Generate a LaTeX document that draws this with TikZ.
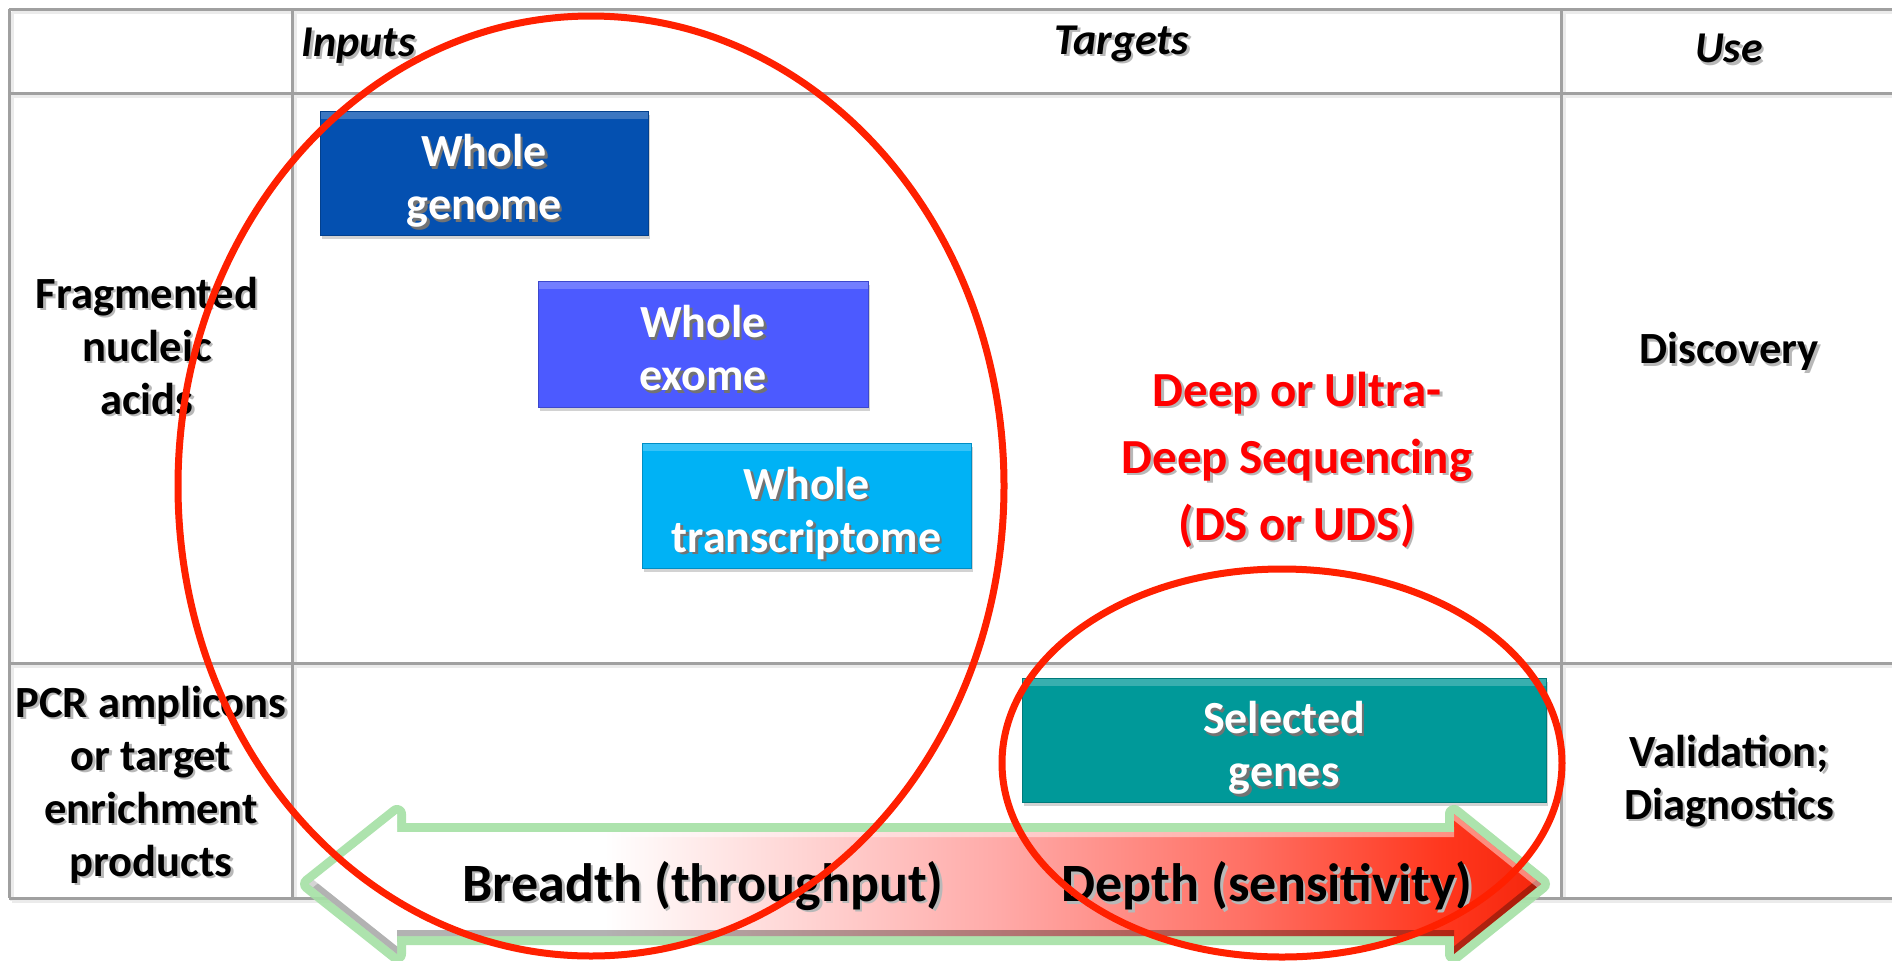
\documentclass[tikz,border=0pt]{standalone}
\usepackage{fontspec}
\setmainfont{Carlito}
\usetikzlibrary{shapes.geometric,shadows}
\definecolor{tblline}{RGB}{160,160,160}
\definecolor{genomeblue}{RGB}{4,80,176}
\definecolor{exomeblue}{RGB}{76,90,255}
\definecolor{transblue}{RGB}{0,178,245}
\definecolor{geneteal}{RGB}{0,153,153}
\definecolor{ringred}{RGB}{255,32,0}
\definecolor{textred}{RGB}{255,0,0}
\definecolor{glowgreen}{RGB}{165,224,165}
\definecolor{arrA}{RGB}{255,170,168}
\definecolor{arrB}{RGB}{255,112,100}
\definecolor{arrC}{RGB}{255,55,30}
\definecolor{arrD}{RGB}{245,38,12}
\pgfdeclarehorizontalshading{arrowshade}{100bp}{color(0bp)=(white); color(37bp)=(white); color(53bp)=(arrA); color(63bp)=(arrB); color(71bp)=(arrC); color(75bp)=(arrD); color(100bp)=(arrD)}
\newcommand{\shtxt}[2][black!28]{\makebox[0pt][l]{\raisebox{-1.3pt}{\hspace{1.3pt}\textcolor{#1}{#2}}}#2}
\tikzset{
  tline/.style={draw=tblline, line width=1.5pt},
  tshadow/.style={draw=black!8, line width=2pt},
  lbl/.style={font=\fontsize{22.3}{26.5}\selectfont\bfseries, align=center, inner sep=0pt},
  hdr/.style={font=\fontsize{22}{26}\selectfont\bfseries\itshape, inner sep=0pt},
  tbox/.style={fill=#1, draw=#1!80!black, line width=0.5pt, text=white, align=center, inner sep=0pt,
    font=\fontsize{23}{26.5}\selectfont\bfseries, text height=46.5pt, text depth=0pt,
    drop shadow={shadow xshift=1pt, shadow yshift=-1.8pt, opacity=0.35},
    path picture={\fill[white,opacity=0.22] (path picture bounding box.north west) rectangle ([yshift=-4pt]path picture bounding box.north east);}},
  ring/.style={ellipse, draw=ringred, line width=3.5pt, inner sep=0pt},
  redtxt/.style={font=\fontsize{24.5}{33.5}\selectfont\bfseries, text=textred, align=center, inner sep=0pt},
  arrtxt/.style={font=\fontsize{27}{30}\selectfont\bfseries, inner sep=0pt},
}
\begin{document}
\begin{tikzpicture}[x=0.5pt,y=-0.5pt]
\useasboundingbox (0,0) rectangle (1892,960);
\fill[white] (0,0) rectangle (1892,960);

% table
\foreach \yy in {9,93,663,898}{
  \draw[tshadow] (12,\yy+3) -- (1892,\yy+3);
}
\foreach \xx in {9,292,1561}{
  \draw[tshadow] (\xx+3,12) -- (\xx+3,901);
}
\foreach \yy in {9,93,663,898}{
  \draw[tline] (9,\yy) -- (1892,\yy);
}
\foreach \xx in {9,292,1561}{
  \draw[tline] (\xx,9) -- (\xx,898);
}

% headers
\node[hdr, anchor=west] (hin) at (301,47) {\shtxt{Inputs}};
\node[hdr] (htg) at (1122,45) {\shtxt{Targets}};
\node[hdr] (hus) at (1729,50) {\shtxt{Use}};

% row labels
\node[lbl] (rfrag) at (147,347) {\shtxt{Fragmented}\\\shtxt{nucleic}\\\shtxt{acids}};
\node[lbl] (rpcr) at (151,786) {\shtxt{PCR amplicons}\\\shtxt{or target}\\\shtxt{enrichment}\\\shtxt{products}};
\node[lbl] (udisc) at (1729,353) {\shtxt{Discovery}};
\node[lbl] (uval) at (1729,782) {\shtxt{Validation;}\\\shtxt{Diagnostics}};

% boxes
\node[tbox=genomeblue, minimum width=164pt, minimum height=62pt] (genome) at (484,173) {\shtxt[black!55]{Whole}\\\shtxt[black!55]{genome}};
\node[tbox=exomeblue, minimum width=165pt, minimum height=63pt] (exome) at (703,344) {\shtxt[black!55]{Whole}\\\shtxt[black!55]{exome}};
\node[tbox=transblue, minimum width=164.5pt, minimum height=62.5pt] (trans) at (806.5,505.5) {\shtxt[black!55]{Whole}\\\shtxt[black!55]{transcriptome}};
\node[tbox=geneteal, minimum width=262pt, minimum height=62pt] (genes) at (1284,740) {\shtxt[black!55]{Selected}\\\shtxt[black!55]{genes}};

% red text
\node[redtxt] (deep) at (1297,461) {\shtxt{Deep or Ultra-}\\\shtxt{Deep Sequencing}\\\shtxt{(DS or UDS)}};

% double arrow
\coordinate (aL) at (309,884);
\coordinate (aLt) at (397,814);
\coordinate (aLst) at (397,832);
\coordinate (aRst) at (1454,832);
\coordinate (aRt) at (1454,814);
\coordinate (aR) at (1541,884);
\coordinate (aRb) at (1454,954);
\coordinate (aRsb) at (1454,936);
\coordinate (aLsb) at (397,936);
\coordinate (aLb) at (397,954);
\draw[glowgreen, line width=9pt, line join=round, opacity=0.9]
  (aL) -- (aLt) -- (aLst) -- (aRst) -- (aRt) -- (aR) -- (aRb) -- (aRsb) -- (aLsb) -- (aLb) -- cycle;
\shade[shading=arrowshade]
  (aL) -- (aLt) -- (aLst) -- (aRst) -- (aRt) -- (aR) -- (aRb) -- (aRsb) -- (aLsb) -- (aLb) -- cycle;
\begin{scope}
  \clip (aL) -- (aLt) -- (aLst) -- (aRst) -- (aRt) -- (aR) -- (aRb) -- (aRsb) -- (aLsb) -- (aLb) -- cycle;
  \draw[black, opacity=0.3, line width=6pt] (aL) -- (aLb) (aLsb) -- (aRsb) (aRb) -- (aR);
  \draw[white, opacity=0.45, line width=5pt] (aL) -- (aLt) (aLst) -- (aRst) (aRt) -- (aR);
\end{scope}
\node[arrtxt] (breadth) at (703,887) {\shtxt{Breadth (throughput)}};
\node[arrtxt] (depth) at (1267,887) {\shtxt{Depth (sensitivity)}};

% red rings
\node[ring, minimum width=413pt, minimum height=470pt] (bigring) at (591,486) {};
\node[ring, minimum width=280pt, minimum height=194pt] (smallring) at (1282,763) {};
\end{tikzpicture}
\end{document}
